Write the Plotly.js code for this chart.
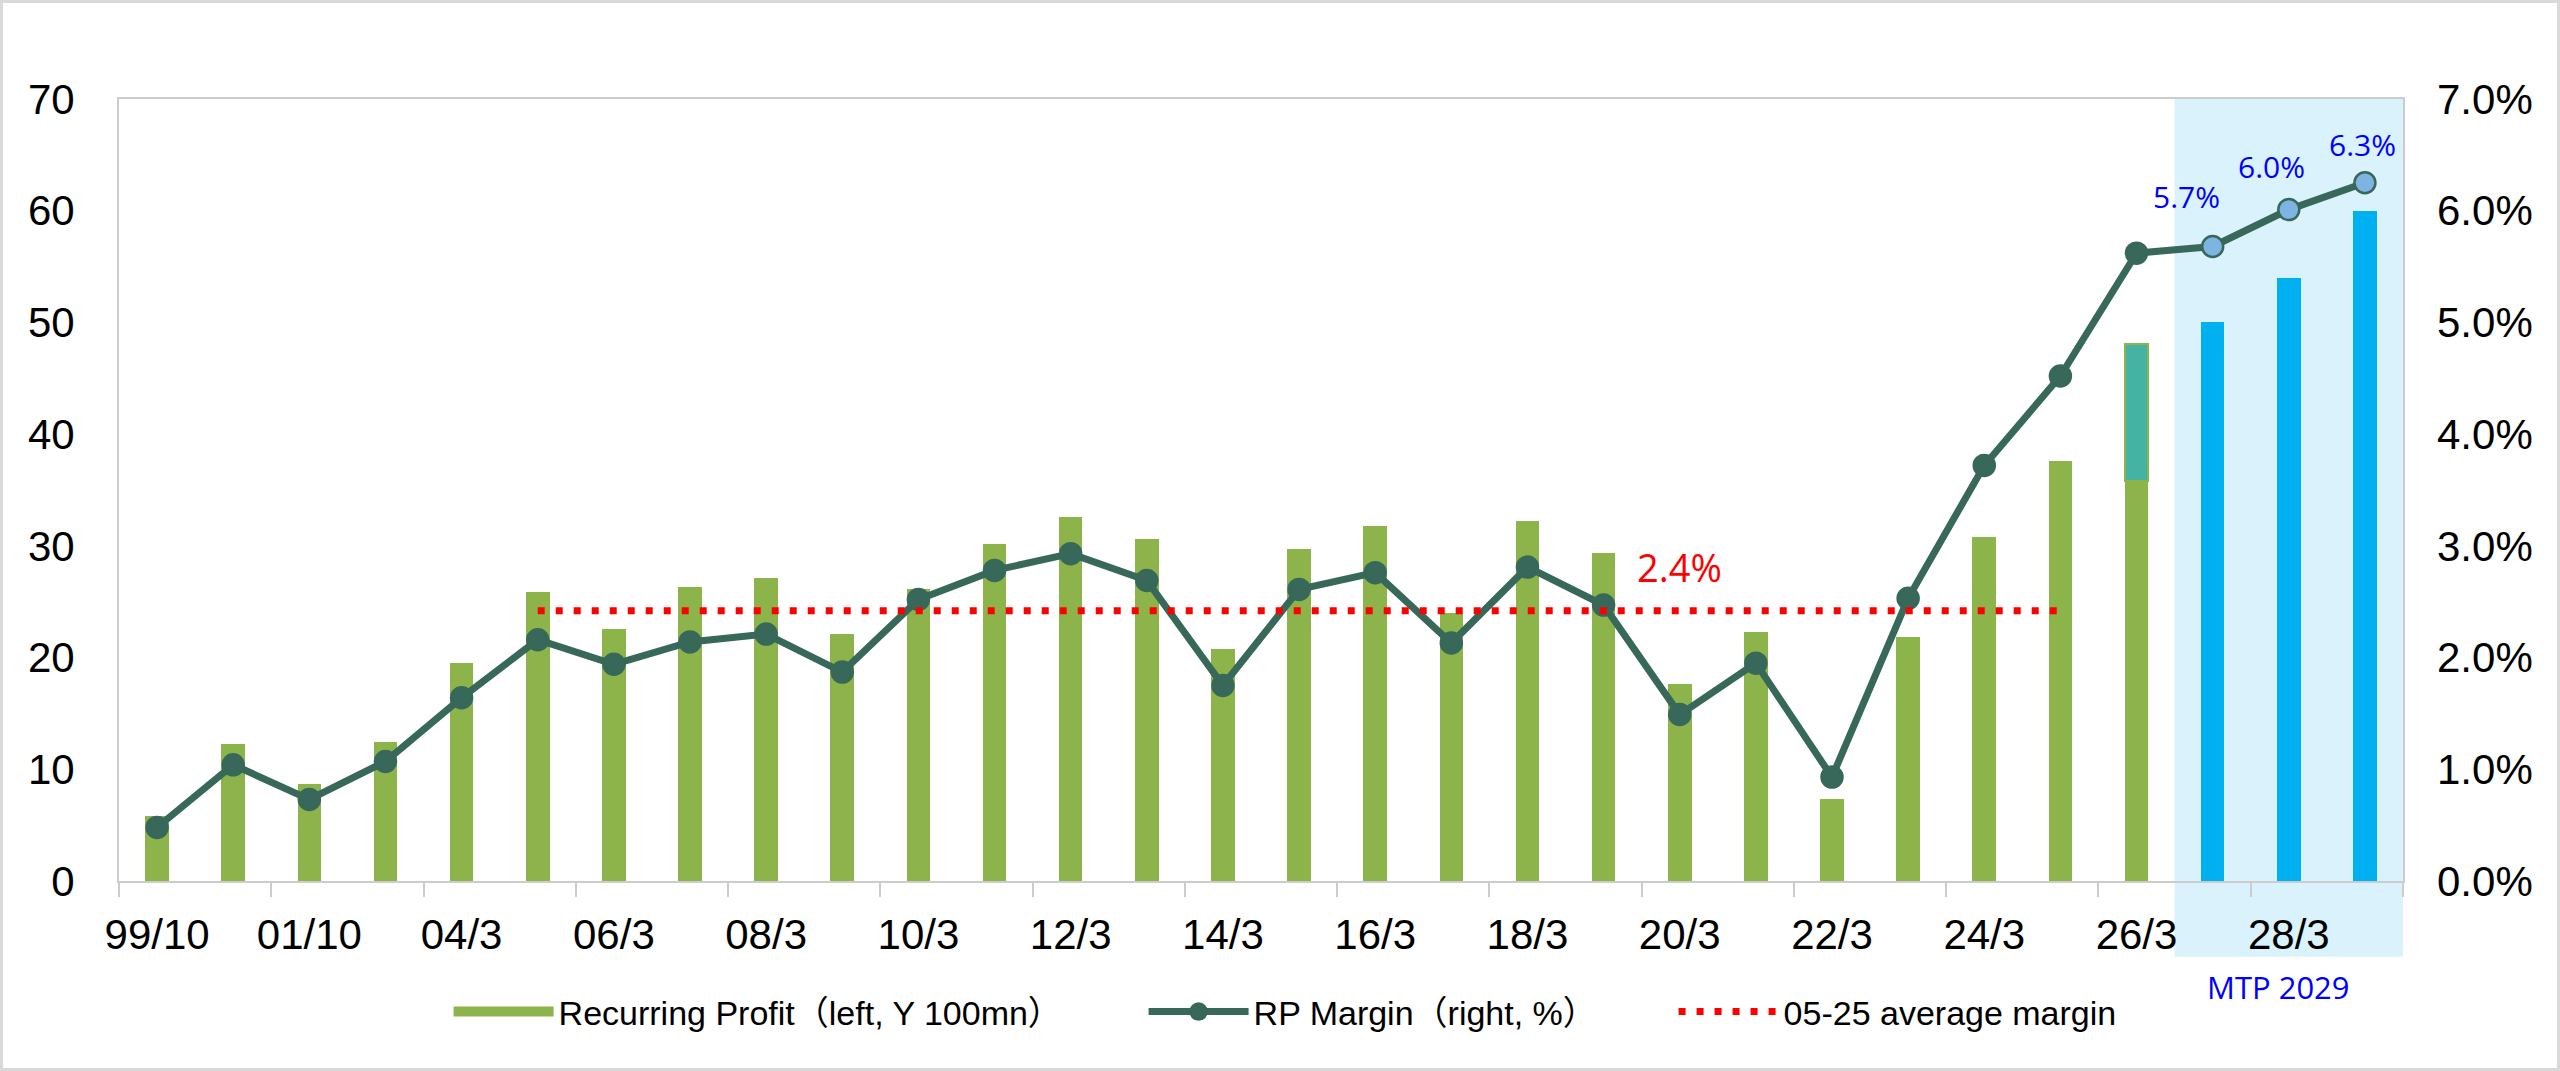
<!DOCTYPE html>
<html>
<head>
<meta charset="utf-8">
<script src="https://cdn.plot.ly/plotly-3.0.1.min.js"></script>
<style>
  html, body { margin: 0; padding: 0; background: #fff; }
  #chart { width: 2554px; height: 1065px; border: 3px solid #d9d9d9; }
</style>
</head>
<body>
<div id="chart"></div>
<script>
/* ── data ── */
const categories = ['99/10','00/10','01/10','03/3','04/3','05/3','06/3','07/3','08/3','09/3',
                    '10/3','11/3','12/3','13/3','14/3','15/3','16/3','17/3','18/3','19/3',
                    '20/3','21/3','22/3','23/3','24/3','25/3','26/3','27/3','28/3','29/3'];

// Recurring profit, Y 100mn (left axis)
const profit = [5.8, 12.3, 8.7, 12.4, 19.5, 25.9, 22.6, 26.3, 27.1, 22.1,
                26.1, 30.2, 32.6, 30.6, 20.8, 29.7, 31.8, 24.0, 32.2, 29.4,
                17.6, 22.3, 7.3, 21.8, 30.8, 37.6, 35.8, 50.0, 54.0, 60.0];

// extra stacked piece on 26/3
const profitExtra = [null, null, null, null, null, null, null, null, null, null,
                     null, null, null, null, null, null, null, null, null, null,
                     null, null, null, null, null, null, 12.3, null, null, null];

// RP margin, % (right axis)
const margin = [0.48, 1.04, 0.73, 1.07, 1.64, 2.16, 1.94, 2.14, 2.21, 1.87,
                2.52, 2.78, 2.93, 2.69, 1.75, 2.61, 2.76, 2.13, 2.81, 2.47,
                1.49, 1.95, 0.93, 2.53, 3.72, 4.52, 5.62, 5.68, 6.01, 6.25];

const avgMargin = 2.42;          // 05-25 average
const avgFrom = '05/3', avgTo = '25/3';
const planFrom = '27/3';         // first MTP 2029 year

/* ── colours ── */
const GREEN  = '#8DB44B';
const TEAL   = '#45B3A3';
const BLUE   = '#00B0F0';
const LINE   = '#37685A';
const LIGHT  = '#7EB4E2';
const SHADE  = '#DAF2FB';
const AXIS   = '#CCCCCC';

const TICK_FONT = { family: 'Liberation Sans, Arial, sans-serif', size: 42, color: '#000' };
const NOTE_FONT = 'Open Sans, Noto Sans, sans-serif';

const planIdx = categories.indexOf(planFrom);
const iFrom = categories.indexOf(avgFrom), iTo = categories.indexOf(avgTo);

const avgLine = categories.map((c, i) => (i >= iFrom && i <= iTo) ? avgMargin : null);

const traces = [
    {
        x: categories, y: profit, type: 'bar', yaxis: 'y',
        name: 'Recurring Profit（left, Y 100mn）',
        showlegend: false, legendgroup: 'rp',
        width: 0.31,
        marker: { color: categories.map((c, i) => i >= planIdx ? BLUE : GREEN) },
        hoverinfo: 'skip'
    },
    {
        x: categories, y: profitExtra, type: 'bar', yaxis: 'y',
        name: 'extra', showlegend: false,
        width: 0.31,
        marker: { color: TEAL, line: { color: GREEN, width: 2 } },
        hoverinfo: 'skip'
    },
    /* legend key for the bars: a wide flat swatch like the original */
    {
        x: [null], y: [null], type: 'scatter', mode: 'lines', yaxis: 'y',
        name: 'Recurring Profit（left, Y 100mn）', legendgroup: 'rp',
        line: { color: GREEN, width: 18 },
        legendwidth: 580,
        hoverinfo: 'skip'
    },
    {
        x: categories, y: margin, type: 'scatter', mode: 'lines+markers', yaxis: 'y2',
        name: 'RP Margin（right, %）',
        line: { color: LINE, width: 7 },
        marker: {
            size: 21,
            color: categories.map((c, i) => i >= planIdx ? LIGHT : LINE),
            line: { color: LINE, width: 2.5 }
        },
        legendwidth: 415,
        hoverinfo: 'skip'
    },
    {
        x: categories, y: avgLine, type: 'scatter', mode: 'lines', yaxis: 'y2',
        name: '05-25 average margin',
        line: { color: '#FF0000', width: 7, dash: '7px,11px' },
        legendwidth: 360,
        hoverinfo: 'skip'
    }
];

/* labels on the plan years */
const labelShift = [[-26, 50], [-17, 43], [-2, 38]];
const annotations = categories.slice(planIdx).map((c, k) => ({
    x: c, y: margin[planIdx + k], xref: 'x', yref: 'y2',
    text: margin[planIdx + k].toFixed(1) + '%',
    showarrow: false,
    xshift: labelShift[k][0], yshift: labelShift[k][1],
    font: { family: NOTE_FONT, size: 30, color: '#0000FF' }
}));

annotations.push({
    x: categories[20], y: avgMargin, xref: 'x', yref: 'y2',
    text: avgMargin.toFixed(1) + '%', showarrow: false, yshift: 44,
    font: { family: NOTE_FONT, size: 38, color: '#FF0000' }
});

annotations.push({
    x: categories[28], y: -0.135, xref: 'x', yref: 'paper',
    xanchor: 'center', yanchor: 'middle',
    text: 'MTP 2029', showarrow: false, xshift: -10,
    font: { family: NOTE_FONT, size: 31, color: '#0000FF' }
});

const layout = {
    width: 2554, height: 1065,
    margin: { l: 116, r: 154, t: 96, b: 187 },
    paper_bgcolor: '#fff',
    plot_bgcolor: 'rgba(0,0,0,0)',
    barmode: 'stack',
    showlegend: true,
    legend: {
        orientation: 'h',
        x: 0.1443, xanchor: 'left',
        y: -0.1675, yanchor: 'middle',
        font: { family: 'Liberation Sans, Arial, Noto Sans CJK JP, sans-serif', size: 34, color: '#000' },
        itemwidth: 100,
        traceorder: 'normal'
    },
    xaxis: {
        type: 'category',
        range: [-0.5, categories.length - 0.5],
        tickmode: 'linear', tick0: 0, dtick: 2,
        tickson: 'boundaries', tickangle: 0,
        ticks: 'outside', ticklen: 14, tickwidth: 2, tickcolor: AXIS,
        ticklabelstandoff: 16,
        showline: true, linecolor: AXIS, linewidth: 2, mirror: true,
        showgrid: false,
        tickfont: TICK_FONT
    },
    yaxis: {
        range: [0, 70], dtick: 10,
        showgrid: false, zeroline: false,
        showline: true, linecolor: AXIS, linewidth: 2, mirror: true,
        ticks: '', ticklabelstandoff: 34,
        tickfont: TICK_FONT
    },
    yaxis2: {
        overlaying: 'y', side: 'right',
        range: [0, 7], dtick: 1,
        tickformat: '.1f', ticksuffix: '%',
        showgrid: false, zeroline: false, showline: false,
        ticks: '', ticklabelstandoff: 33,
        tickfont: TICK_FONT
    },
    shapes: [{
        type: 'rect', layer: 'below',
        xref: 'x', yref: 'paper',
        x0: planIdx - 0.5, x1: categories.length - 0.5,
        y0: -0.097, y1: 1,
        fillcolor: SHADE, line: { width: 0 }
    }],
    annotations: annotations
};

Plotly.newPlot('chart', traces, layout, { displayModeBar: false, staticPlot: true });
</script>
</body>
</html>
